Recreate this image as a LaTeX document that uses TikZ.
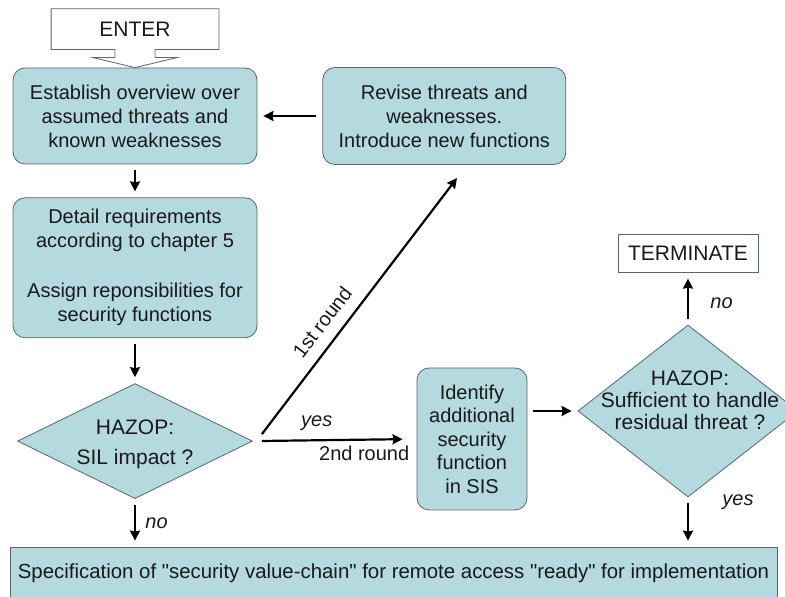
\documentclass[tikz,border=0pt]{standalone}
\usepackage{fontspec}
\setmainfont{Liberation Sans}
\usetikzlibrary{arrows.meta,positioning}
\usetikzlibrary{shapes.geometric,calc}
\definecolor{boxfill}{RGB}{180,218,224}
\definecolor{boxline}{RGB}{90,102,106}
\definecolor{txt}{RGB}{25,25,25}
\tikzset{
	%Define standard arrow tip
	>={Stealth[length=10pt,width=10pt,inset=1pt]},
	%Define style for boxes
	punkt/.style={
		rectangle,
		rounded corners=12pt,
		draw=boxline, line width=0.8pt,
		fill=boxfill,
		text=txt,
		inner sep=0pt,
		align=center,
		font=\fontsize{20}{24}\selectfont},
	%Define style for decisions
	raute/.style={
		diamond,
		draw=boxline, line width=0.8pt,
		fill=boxfill,
		inner sep=0pt},
	rautetext/.style={text=txt, align=center},
	%Define style for plain boxes
	endbox/.style={
		rectangle,
		draw=boxline, line width=0.8pt,
		text=txt,
		inner sep=0pt,
		font=\fontsize{21}{24}\selectfont},
	mylabel/.style={text=txt, font=\fontsize{20}{24}\selectfont\itshape},
	% Define arrow style
	pil/.style={
		->,
		line width=2.2pt,
		draw=black,
		shorten <=6pt,
		shorten >=6pt,}
}
\begin{document}
\begin{tikzpicture}
	\useasboundingbox (0,0) rectangle (785pt,597pt);
	% node Establish overview
	\node[punkt, minimum width=244pt, minimum height=96pt] (overview) at (135pt,481pt) {Establish overview over\\assumed threats and\\known weaknesses};
	% node Revise
	\node[punkt, minimum width=243pt, minimum height=97pt, right=65pt of overview] (revise) {Revise threats and\\weaknesses.\\Introduce new functions};
	% node Enter
	\node[endbox, draw=none, minimum width=167pt, minimum height=40pt, above=18pt of overview] (enter) {ENTER};
	\draw[boxline, line width=0.8pt] (enter.south west) -- (enter.north west) -- (enter.north east) -- (enter.south east)
		-- ($(enter.south)+(20pt,0)$) -- ++(0,-8pt) -- ++(22pt,0) -- ($(enter.south)+(0,-18pt)$)
		-- ($(enter.south)+(-42pt,-8pt)$) -- ++(22pt,0) -- ($(enter.south)+(-20pt,0)$) -- cycle;
	% node Detail requirements
	\node[punkt, minimum width=244pt, minimum height=140pt, below=33pt of overview] (detail) {Detail requirements\\according to chapter 5\\[26pt]Assign reponsibilities for\\security functions};
	% node HAZOP SIL
	\node[raute, minimum width=235pt, minimum height=115pt, below=45pt of detail,
		label={[rautetext, font=\fontsize{21}{30}\selectfont, yshift=-3pt]center:{HAZOP:\\SIL impact ?}}] (sil) {};
	% node Identify
	\node[punkt, minimum width=110pt, minimum height=142pt, font=\fontsize{20}{23.5}\selectfont] (identify) at (472pt,158pt) {Identify\\additional\\security\\function\\in SIS};
	% node HAZOP residual
	\node[raute, minimum width=220pt, minimum height=172pt,
		label={[rautetext, font=\fontsize{21}{22}\selectfont, xshift=2pt, yshift=11pt]center:{HAZOP:\\Sufficient to handle\\residual threat ?}}] (residual) at (688pt,186pt) {};
	% node Terminate
	\node[endbox, minimum width=140pt, minimum height=38pt, above=52pt of residual] (terminate) {TERMINATE};
	% node Specification
	\node[punkt, sharp corners, minimum width=767pt, minimum height=52pt, font=\fontsize{20.4}{24}\selectfont] (spec) at (393.5pt,24pt) {Specification of \textquotedbl security value-chain\textquotedbl{} for remote access \textquotedbl ready\textquotedbl{} for implementation};
	\coordinate (fork) at ($(sil.east)+(9pt,7pt)$);
	\coordinate (round1) at (457pt,419pt);
	\draw[pil]   (overview.south) -- (detail.north);
	\draw[pil]   (revise.west) -- (overview.east);
	\draw[pil]   (detail.south) -- (sil.north);
	\draw[pil]   (sil.south) -- node[mylabel, right=6pt] {no} (sil.south |- spec.north);
	\draw[pil, shorten <=9pt, shorten >=14pt]   (sil.east) -- node[mylabel, above=5pt, pos=0.39] {yes} node[text=txt, font=\fontsize{20}{24}\selectfont, below=2pt, pos=0.68] {2nd round} (identify.west);
	\draw[pil, shorten <=0pt, shorten >=0pt]   (fork) -- node[text=txt, font=\fontsize{20}{24}\selectfont, sloped, above=8pt, pos=0.39] {1st round} (round1);
	\draw[pil]   (identify.east |- residual.west) -- (residual.west);
	\draw[pil]   (residual.north) -- node[mylabel, right=18pt, pos=0.42] {no} (terminate.south);
	\draw[pil]   (residual.south) -- node[mylabel, right=30pt, pos=0.1] {yes} (residual.south |- spec.north);
\end{tikzpicture}
\end{document}
